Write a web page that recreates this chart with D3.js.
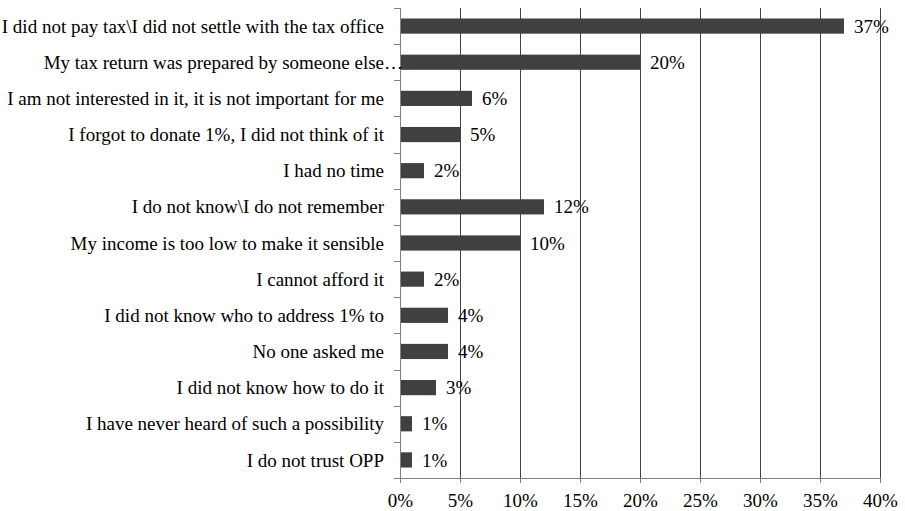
<!DOCTYPE html>
<html>
<head>
<meta charset="utf-8">
<script src="https://cdn.jsdelivr.net/npm/d3@7"></script>
<style>
  body { margin: 0; background: #fff; }
  svg { display: block; }
  text { font-family: "Liberation Serif", "Times New Roman", serif; fill: #000; }
</style>
</head>
<body>
<svg id="chart" width="905" height="511"></svg>
<script>
// Reasons for not donating 1% of tax
const categories = [
  "I did not pay tax\\I did not settle with the tax office",
  "My tax return was prepared by someone else…",
  "I am not interested in it, it is not important for me",
  "I forgot to donate 1%, I did not think of it",
  "I had no time",
  "I do not know\\I do not remember",
  "My income is too low to make it sensible",
  "I cannot afford it",
  "I did not know who to address 1% to",
  "No one asked me",
  "I did not know how to do it",
  "I have never heard of such a possibility",
  "I do not trust OPP"
];
const values = [37, 20, 6, 5, 2, 12, 10, 2, 4, 4, 3, 1, 1];
const xTicks = [0, 5, 10, 15, 20, 25, 30, 35, 40];

const FONT = "'Liberation Serif', 'Times New Roman', serif";
const FS = 19;
const svg = d3.select("#chart");
const margin = { top: 8, right: 25, bottom: 33, left: 400 };
const width = 905 - margin.left - margin.right;
const height = 511 - margin.top - margin.bottom;

const x = d3.scaleLinear().domain([0, 40]).range([0, width]);
const y = d3.scaleBand().domain(categories).range([0, height]).paddingInner(0.58).paddingOuter(0.29);
const yb = d3.scaleBand().domain(categories).range([0, height]);

const g = svg.append("g").attr("transform", `translate(${margin.left},${margin.top})`);

// vertical gridlines
g.selectAll(".grid").data(xTicks.slice(1)).join("line")
  .attr("x1", d => Math.round(x(d)) + 0.5).attr("x2", d => Math.round(x(d)) + 0.5)
  .attr("y1", 0).attr("y2", height)
  .attr("stroke", "#444").attr("stroke-width", 1);

// bars
g.selectAll(".bar").data(values).join("rect")
  .attr("x", 0)
  .attr("y", (d, i) => y(categories[i]))
  .attr("width", d => x(d))
  .attr("height", y.bandwidth())
  .attr("fill", "#404040");

// value labels
g.selectAll(".val").data(values).join("text")
  .attr("x", d => x(d) + 10)
  .attr("y", (d, i) => y(categories[i]) + y.bandwidth() / 2)
  .attr("dy", "0.35em")
  .attr("font-family", FONT)
  .attr("font-size", FS)
  .text(d => d + "%");

// y axis line and category boundary ticks
g.append("line").attr("x1", 0.5).attr("x2", 0.5).attr("y1", 0).attr("y2", height)
  .attr("stroke", "#808080");
const bounds = categories.map(c => yb(c)).concat([height]);
g.selectAll(".ytick").data(bounds).join("line")
  .attr("x1", -6).attr("x2", 0.5)
  .attr("y1", d => Math.round(d) + 0.5).attr("y2", d => Math.round(d) + 0.5)
  .attr("stroke", "#808080");

// category labels
const labelX = -16;
g.selectAll(".cat").data(categories).join("text")
  .attr("x", labelX)
  .attr("y", d => yb(d) + yb.bandwidth() / 2)
  .attr("dy", "0.35em")
  .attr("text-anchor", "end")
  .attr("font-family", FONT)
  .attr("font-size", FS)
  .text(d => d.endsWith("…") ? d.slice(0, -1) : d);
g.selectAll(".ell").data(categories.filter(d => d.endsWith("…"))).join("text")
  .attr("x", labelX)
  .attr("y", d => yb(d) + yb.bandwidth() / 2)
  .attr("dy", "0.35em")
  .attr("font-family", FONT)
  .attr("font-size", FS)
  .text("…");

// x axis
const xAxis = d3.axisBottom(x).tickValues(xTicks).tickFormat(d => d + "%").tickSize(5).tickPadding(11);
const ax = g.append("g").attr("transform", `translate(0,${height})`).call(xAxis);
ax.attr("font-family", FONT);
ax.select(".domain").attr("stroke", "#808080");
ax.selectAll(".tick line").attr("stroke", "#808080");
ax.selectAll(".tick text")
  .attr("font-family", FONT)
  .attr("font-size", FS).attr("fill", "#000");
</script>
</body>
</html>
